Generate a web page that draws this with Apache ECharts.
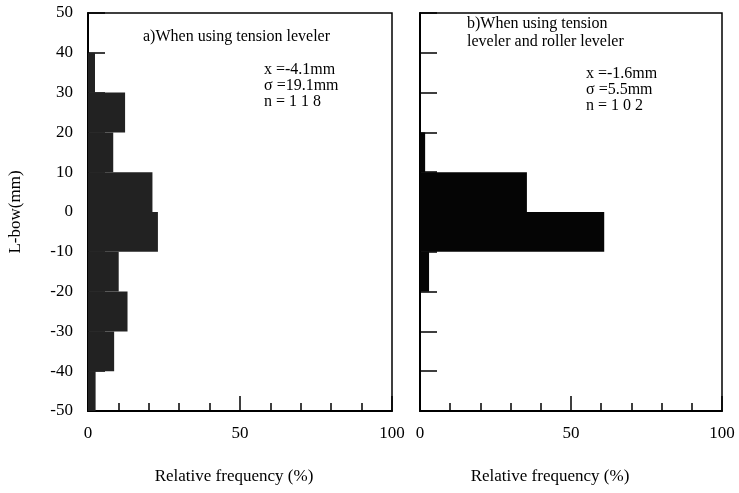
<!DOCTYPE html>
<html>
<head>
<meta charset="utf-8">
<script src="https://cdn.jsdelivr.net/npm/echarts@6/dist/echarts.min.js"></script>
<style>html,body{margin:0;padding:0;background:#fff}#c{width:739px;height:493px}</style>
</head>
<body>
<div id="c"></div>
<script>
// Bin edges (mm) and relative frequency (%)
const binLow  = [40, 30, 20, 10, 0, -10, -20, -30, -40, -50];
const binHigh = [50, 40, 30, 20, 10, 0, -10, -20, -30, -40];
const freqA = [0, 2.3, 12.2, 8.3, 21.2, 23.0, 10.1, 13.0, 8.6, 2.5];
const freqB = [0, 0, 0, 1.7, 35.4, 61.0, 3.0, 0, 0, 0];
const xTickLabels = [0, 50, 100];

const serif = 'Liberation Serif';

function binData(freq){
  return freq.map((v,i)=>[binLow[i], binHigh[i], v]);
}
function renderBin(params, api){
  const lo = api.value(0), hi = api.value(1), v = api.value(2);
  if (v <= 0) return null;
  const p1 = api.coord([0, hi]);
  const p2 = api.coord([v, lo]);
  return {
    type: 'rect',
    shape: {x: p1[0], y: p1[1], width: p2[0]-p1[0], height: p2[1]-p1[1]},
    style: {fill: api.visual('color')}
  };
}

const grids = [
  {left: 88, right: 347, top: 13, bottom: 82, show: true, borderColor: '#000', borderWidth: 1.5, backgroundColor: 'transparent'},
  {left: 420, right: 17, top: 13, bottom: 82, show: true, borderColor: '#000', borderWidth: 1.5, backgroundColor: 'transparent'}
];

function xAxes(gi, shift){
  return [
    {
      type: 'value', gridIndex: gi, min: 0, max: 100, interval: 10,
      name: 'Relative frequency (%)', nameLocation: 'middle', nameGap: 57,
      nameTextStyle: {fontFamily: serif, fontSize: 17, color: '#000', padding: [0, shift, 0, 0]},
      axisLine: {show: true, onZero: false, lineStyle: {color: '#000', width: 2}},
      axisTick: {show: true, inside: true, length: 8, lineStyle: {color: '#000', width: 1.5}},
      axisLabel: {
        fontFamily: serif, fontSize: 17, color: '#000', margin: 14,
        formatter: v => xTickLabels.indexOf(v) >= 0 ? String(v) : ''
      },
      splitLine: {show: false}
    },
    {
      type: 'value', gridIndex: gi, min: 0, max: 100, interval: 50, position: 'bottom',
      axisLine: {show: false, onZero: false},
      axisTick: {show: true, inside: true, length: 15, lineStyle: {color: '#000', width: 1.5}},
      axisLabel: {show: false},
      splitLine: {show: false}
    }
  ];
}

function yAxis(gi, labels){
  return {
    type: 'value', gridIndex: gi, min: -50, max: 50, interval: 10,
    name: labels ? 'L-bow(mm)' : '', nameLocation: 'middle', nameGap: 64,
    nameTextStyle: {fontFamily: serif, fontSize: 17, color: '#000', padding: [0, 0, 0, 0]},
    axisLine: {show: true, onZero: false, lineStyle: {color: '#000', width: 2}},
    axisTick: {show: true, inside: true, length: 17, lineStyle: {color: '#000', width: 1.5}},
    axisLabel: {show: labels, fontFamily: serif, fontSize: 17, color: '#000', margin: 15},
    splitLine: {show: false}
  };
}

const option = {
  animation: false,
  backgroundColor: '#fff',
  grid: grids,
  xAxis: [...xAxes(0, 12), ...xAxes(1, 42)],
  yAxis: [yAxis(0, true), yAxis(1, false)],
  series: [
    {type: 'custom', xAxisIndex: 0, yAxisIndex: 0, data: binData(freqA), renderItem: renderBin, itemStyle: {color: '#222'}, z: 10},
    {type: 'custom', xAxisIndex: 2, yAxisIndex: 1, data: binData(freqB), renderItem: renderBin, itemStyle: {color: '#050505'}, z: 10}
  ],
  graphic: [
    {type: 'text', left: 143, top: 29, style: {text: 'a)When using tension leveler', font: '16px ' + serif, fill: '#000'}},
    {type: 'text', left: 264, top: 62, style: {text: 'x =-4.1mm\nσ =19.1mm\nn = 1 1 8', font: '16px ' + serif, fill: '#000', lineHeight: 16}},
    {type: 'text', left: 467, top: 15, style: {text: 'b)When using tension\nleveler and roller leveler', font: '16px ' + serif, fill: '#000', lineHeight: 18}},
    {type: 'text', left: 586, top: 66, style: {text: 'x =-1.6mm\nσ =5.5mm\nn = 1 0 2', font: '16px ' + serif, fill: '#000', lineHeight: 16}}
  ]
};

const chart = echarts.init(document.getElementById('c'), null, {renderer: 'canvas'});
chart.setOption(option);
</script>
</body>
</html>
